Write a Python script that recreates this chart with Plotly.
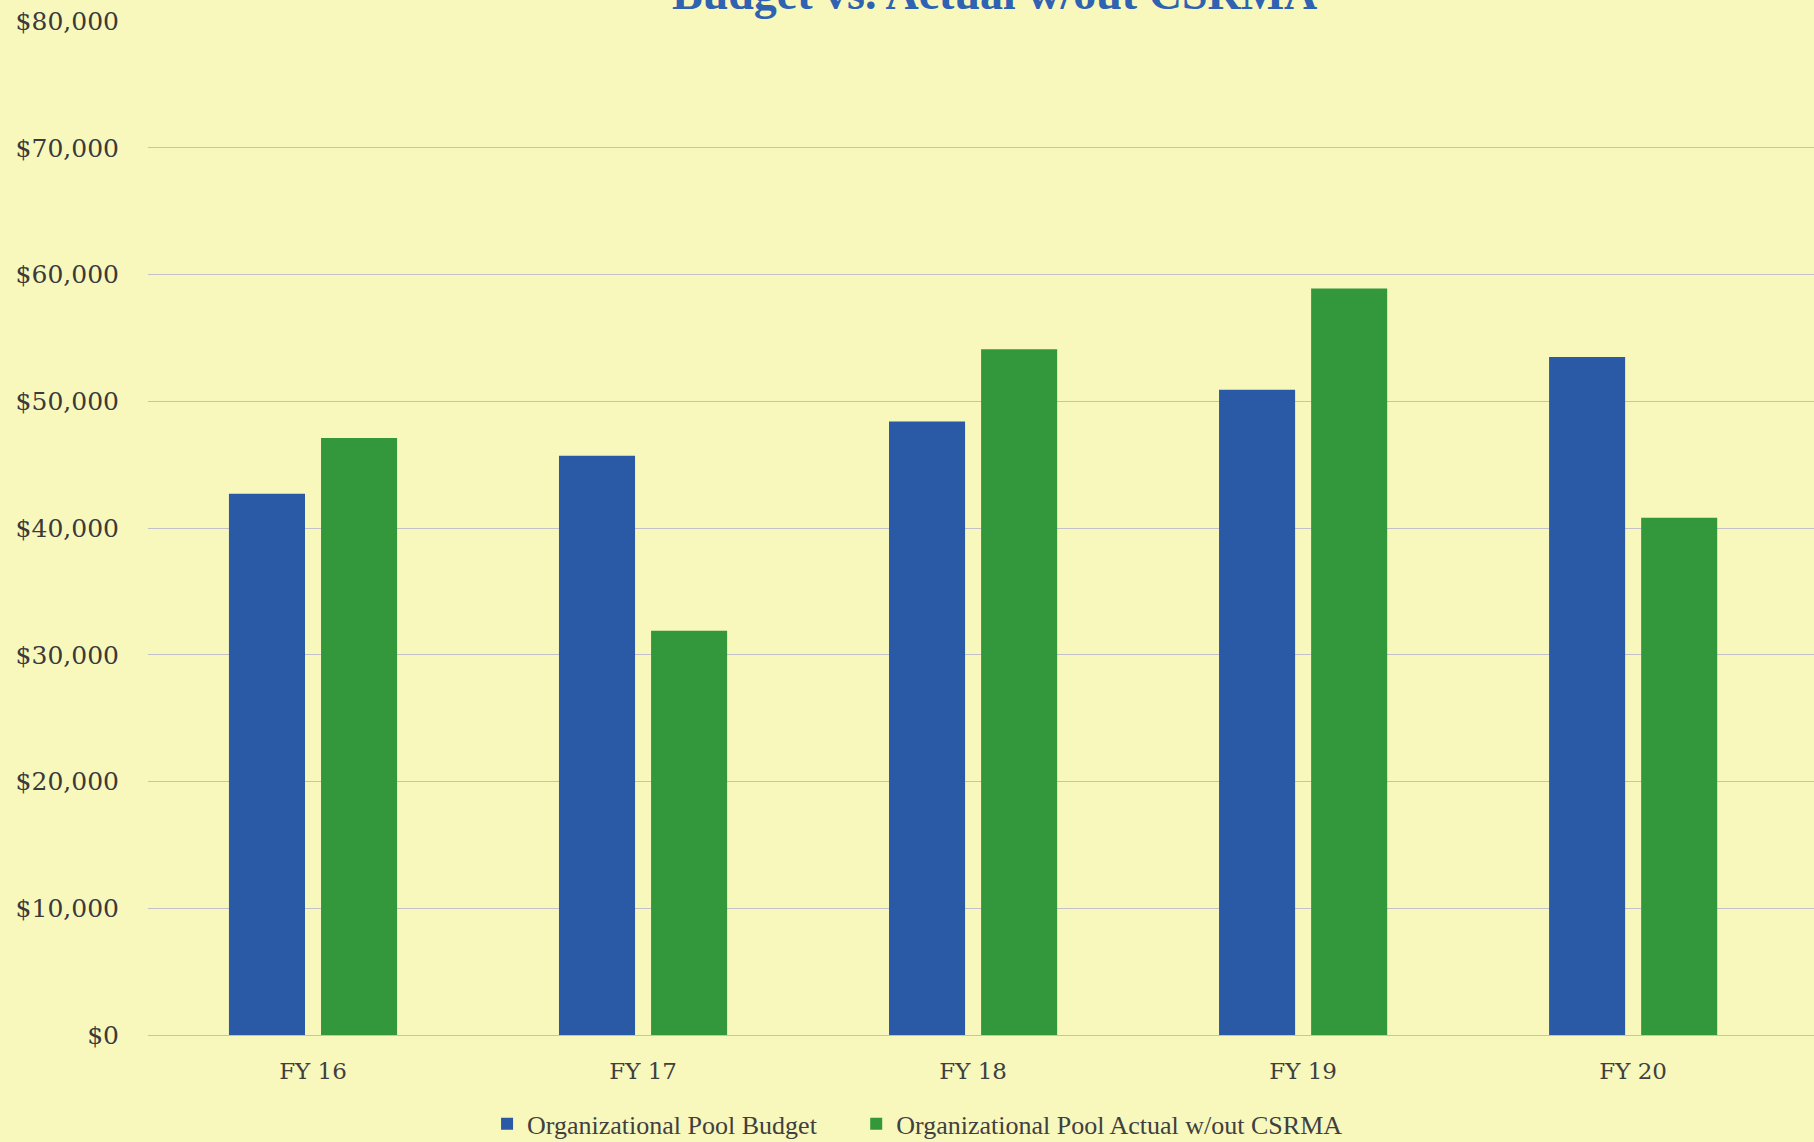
import plotly.graph_objects as go

categories = ["FY 16", "FY 17", "FY 18", "FY 19", "FY 20"]
budget = [42700, 45700, 48400, 50900, 53500]
actual = [47100, 31900, 54100, 58900, 40800]
series_names = ["Organizational Pool Budget", "Organizational Pool Actual w/out CSRMA"]
title_text = "Budget vs. Actual w/out CSRMA"

BG = "#f8f8bd"
BLUE = "#2a5aa6"
GREEN = "#33983c"

fig = go.Figure()
fig.add_trace(go.Bar(x=categories, y=budget, name=series_names[0], legend="legend",
                     marker=dict(color=BLUE, line=dict(width=0))))
fig.add_trace(go.Bar(x=categories, y=actual, name=series_names[1], legend="legend2",
                     marker=dict(color=GREEN, line=dict(width=0))))

legend_common = dict(orientation="h", xanchor="left", y=0.016, yanchor="middle",
                     xref="container", yref="container", bgcolor="rgba(0,0,0,0)",
                     font=dict(family="Liberation Serif", size=26, color="#404040"),
                     itemwidth=30)

fig.update_layout(
    width=1814, height=1142,
    paper_bgcolor=BG, plot_bgcolor=BG,
    margin=dict(l=148, r=0, t=21, b=107),
    barmode="group", bargap=0.442, bargroupgap=0.174,
    showlegend=True,
    legend=dict(x=0.2685, **legend_common),
    legend2=dict(x=0.472, **legend_common),
    annotations=[dict(text="<b>" + title_text + "</b>", xref="paper", yref="paper", x=0.508, y=1.0,
                      xanchor="center", yanchor="bottom", showarrow=False,
                      font=dict(family="Liberation Serif", size=46, color="#2f62b0"))],
)
fig.update_xaxes(range=[-0.5, 4.548], showgrid=False, showline=False, ticks="",
                 tickfont=dict(family="DejaVu Serif", size=23, color="#404040"),
                 ticklabelstandoff=20)
fig.update_yaxes(range=[0, 80000], dtick=10000, tickprefix="$", tickformat=",",
                 showgrid=True, gridcolor="#c2c0c8", gridwidth=1,
                 zeroline=True, zerolinecolor="#c2c0c8", zerolinewidth=1,
                 showline=False, ticks="",
                 tickfont=dict(family="DejaVu Serif", size=25, color="#3a3a3a"),
                 ticklabelstandoff=28)

fig.write_html("out.html", config={"displayModeBar": False},
               post_script="document.body.style.margin='0';document.body.style.overflow='hidden';")
